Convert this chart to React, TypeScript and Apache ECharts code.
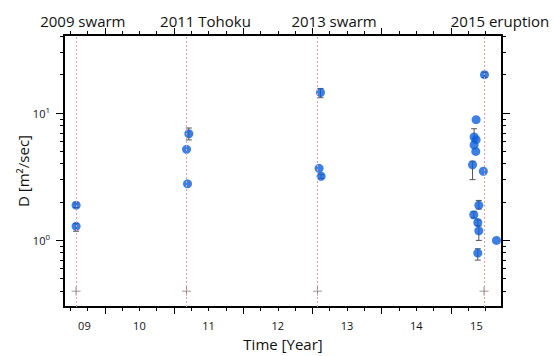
import React, { useEffect, useRef } from 'react';
import * as echarts from 'echarts';

// Axis ranges
const xMin = 2009.41;
const xMax = 2015.74;
const yMin = 0.3;
const yMax = 41;

// Events (top axis)
const eventNames = ['2009 swarm', '2011 Tohoku', '2013 swarm', '2015 eruption'];
const eventTimes = [2009.585, 2011.181, 2013.074, 2015.481];
const eventLabelPos = [2009.682, 2011.455, 2013.313, 2015.711];
const markerLevel = 0.4;

// Bottom axis ticks / labels
const yearTicks = [2010, 2011, 2012, 2013, 2014, 2015];
const yearLabels = ['09', '10', '11', '12', '13', '14', '15'];
const yearLabelPos = [2009.705, 2010.5, 2011.5, 2012.5, 2013.5, 2014.5, 2015.37];

// Y axis ticks
const yMajorTicks = [1, 10];
const yMinorTicks = [0.4, 0.5, 0.6, 0.7, 0.8, 0.9, 2, 3, 4, 5, 6, 7, 8, 9, 20, 30, 40];

// Data points: D [m2/sec]
const pointTimes = [
  2009.585, 2009.585,
  2011.214, 2011.181, 2011.195,
  2013.117, 2013.097, 2013.126,
  2015.487, 2015.366, 2015.337, 2015.366, 2015.337, 2015.361, 2015.314, 2015.47,
  2015.405, 2015.332, 2015.39, 2015.405, 2015.66, 2015.39,
];
const pointValues = [
  1.89, 1.29,
  6.88, 5.19, 2.78,
  14.5, 3.68, 3.19,
  20.0, 8.87, 6.49, 6.18, 5.61, 5.0, 3.92, 3.49,
  1.89, 1.59, 1.38, 1.19, 1.0, 0.796,
];
const errLow: (number | null)[] = [
  1.81, 1.18,
  6.15, null, null,
  13.2, null, 3.07,
  19.0, null, 6.0, null, null, null, 3.0, null,
  1.76, 1.5, 1.31, 1.0, null, 0.7,
];
const errHigh: (number | null)[] = [
  1.97, 1.36,
  7.63, null, null,
  15.6, null, 3.3,
  20.9, null, 7.53, null, null, null, 4.18, null,
  2.06, 1.68, 1.45, 1.3, null, 0.86,
];

const FONT = 'Open Sans';

function quarterTicks(): number[] {
  const out: number[] = [];
  for (let y = 2009; y <= 2015; y++) {
    for (const q of [0.25, 0.5, 0.75]) {
      const v = y + q;
      if (v > xMin && v < xMax) out.push(v);
    }
  }
  return out;
}

function lookup(values: number[], names: string[], v: number): string {
  for (let i = 0; i < values.length; i++) {
    if (Math.abs(values[i] - v) < 1e-6) return names[i];
  }
  return '';
}

export default function App() {
  const ref = useRef<HTMLDivElement>(null);

  useEffect(() => {
    if (!ref.current) return;
    const chart = echarts.init(ref.current, null, { renderer: 'svg' });
    const minor = quarterTicks();

    const baseX = {
      type: 'value' as const,
      min: xMin,
      max: xMax,
      splitLine: { show: false },
    };
    const baseY = {
      type: 'log' as const,
      logBase: 10,
      min: yMin,
      max: yMax,
      splitLine: { show: false },
      minorTick: { show: false },
    };

    const scatterData = pointTimes.map((t, i) => [t, pointValues[i]]);
    const errData: number[][] = [];
    pointTimes.forEach((t, i) => {
      const lo = errLow[i];
      const hi = errHigh[i];
      if (lo != null && hi != null) errData.push([t, lo, hi]);
    });

    chart.setOption({
      animation: false,
      backgroundColor: '#fff',
      textStyle: { fontFamily: FONT },
      grid: { left: 64, right: 51, top: 35, bottom: 48, containLabel: false },
      xAxis: [
        {
          ...baseX,
          position: 'bottom',
          name: 'Time [Year]',
          nameLocation: 'middle',
          nameGap: 29,
          nameMoveOverlap: false,
          nameTextStyle: { fontSize: 15, color: '#111', fontFamily: FONT },
          axisLine: { show: true, lineStyle: { color: '#000', width: 2 } },
          axisTick: {
            show: true,
            customValues: yearTicks,
            length: 7,
            lineStyle: { color: '#000', width: 1 },
          },
          axisLabel: {
            show: true,
            customValues: yearLabelPos,
            formatter: (v: number) => lookup(yearLabelPos, yearLabels, v),
            fontSize: 11,
            color: '#111',
            margin: 13,
            fontFamily: FONT,
          },
        },
        {
          ...baseX,
          position: 'bottom',
          axisLine: { show: false },
          axisTick: {
            show: true,
            customValues: minor,
            length: 4,
            lineStyle: { color: '#000', width: 1 },
          },
          axisLabel: { show: false },
        },
        {
          ...baseX,
          position: 'top',
          axisLine: { show: true, lineStyle: { color: '#000', width: 2 } },
          axisTick: {
            show: true,
            customValues: yearTicks,
            length: 7,
            lineStyle: { color: '#000', width: 1 },
          },
          axisLabel: {
            show: true,
            customValues: eventLabelPos,
            formatter: (v: number) => lookup(eventLabelPos, eventNames, v),
            fontSize: 15,
            color: '#111',
            margin: 7,
            fontFamily: FONT,
          },
        },
        {
          ...baseX,
          position: 'top',
          axisLine: { show: false },
          axisTick: {
            show: true,
            customValues: minor,
            length: 4,
            lineStyle: { color: '#000', width: 1 },
          },
          axisLabel: { show: false },
        },
      ],
      yAxis: [
        {
          ...baseY,
          position: 'left',
          name: 'D [m²/sec]',
          nameLocation: 'middle',
          nameGap: 34,
          nameMoveOverlap: false,
          nameTextStyle: { fontSize: 15, color: '#111', fontFamily: FONT },
          axisLine: { show: true, lineStyle: { color: '#000', width: 2 } },
          axisTick: {
            show: true,
            customValues: yMajorTicks,
            length: 8,
            lineStyle: { color: '#000', width: 1 },
          },
          axisLabel: {
            show: true,
            customValues: yMajorTicks,
            margin: 14,
            formatter: (v: number) => `{b|10}{s|${Math.round(Math.log10(v))}}`,
            rich: {
              b: { fontSize: 11, lineHeight: 16, color: '#111', fontFamily: FONT },
              s: { fontSize: 8, lineHeight: 10, verticalAlign: 'top', color: '#111', fontFamily: FONT },
            },
          },
        },
        {
          ...baseY,
          position: 'left',
          axisLine: { show: false },
          axisTick: {
            show: true,
            customValues: yMinorTicks,
            length: 4,
            lineStyle: { color: '#000', width: 1 },
          },
          axisLabel: { show: false },
        },
        {
          ...baseY,
          position: 'right',
          axisLine: { show: true, lineStyle: { color: '#000', width: 2 } },
          axisTick: {
            show: true,
            customValues: yMajorTicks,
            length: 8,
            lineStyle: { color: '#000', width: 1 },
          },
          axisLabel: { show: false },
        },
        {
          ...baseY,
          position: 'right',
          axisLine: { show: false },
          axisTick: {
            show: true,
            customValues: yMinorTicks,
            length: 4,
            lineStyle: { color: '#000', width: 1 },
          },
          axisLabel: { show: false },
        },
      ],
      series: [
        {
          type: 'scatter',
          name: 'events',
          xAxisIndex: 0,
          yAxisIndex: 0,
          symbol: 'path://M4.5,0h1v10h-1z M0,4.5h10v1h-10z',
          symbolSize: 9,
          itemStyle: { color: '#555' },
          data: eventTimes.map((t) => [t, markerLevel]),
          z: 1,
          markLine: {
            silent: true,
            symbol: ['none', 'none'],
            label: { show: false },
            lineStyle: { color: '#e99aa4', width: 1, type: [2, 2] },
            data: eventTimes.map((t) => ({ xAxis: t })),
          },
        },
        {
          type: 'custom',
          name: 'error',
          xAxisIndex: 0,
          yAxisIndex: 0,
          encode: { x: 0, y: [1, 2] },
          data: errData,
          z: 2,
          renderItem: (params: any, api: any) => {
            const x = api.value(0);
            const pLo = api.coord([x, api.value(1)]);
            const pHi = api.coord([x, api.value(2)]);
            const w = 3;
            const style = { stroke: '#555', lineWidth: 1 };
            return {
              type: 'group',
              children: [
                { type: 'line', shape: { x1: pLo[0], y1: pLo[1], x2: pHi[0], y2: pHi[1] }, style },
                { type: 'line', shape: { x1: pLo[0] - w, y1: pLo[1], x2: pLo[0] + w, y2: pLo[1] }, style },
                { type: 'line', shape: { x1: pHi[0] - w, y1: pHi[1], x2: pHi[0] + w, y2: pHi[1] }, style },
              ],
            };
          },
        },
        {
          type: 'scatter',
          name: 'D',
          xAxisIndex: 0,
          yAxisIndex: 0,
          symbol: 'circle',
          symbolSize: 9,
          itemStyle: { color: '#0e5fdc' },
          data: scatterData,
          z: 3,
        },
      ],
    });

    return () => {
      chart.dispose();
    };
  }, []);

  return (
    <div
      ref={ref}
      style={{ position: 'fixed', left: 0, top: 0, width: 553, height: 356, background: '#fff' }}
    />
  );
}
